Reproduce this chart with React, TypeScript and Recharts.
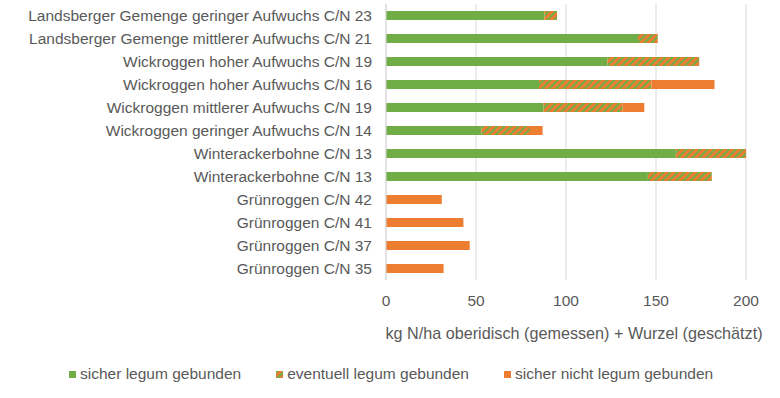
import { BarChart, Bar, XAxis, YAxis, CartesianGrid, Legend } from "recharts"

const categories = [
    "Landsberger Gemenge geringer Aufwuchs C/N 23",
    "Landsberger Gemenge mittlerer Aufwuchs C/N 21",
    "Wickroggen hoher Aufwuchs C/N 19",
    "Wickroggen hoher Aufwuchs C/N 16",
    "Wickroggen mittlerer Aufwuchs C/N 19",
    "Wickroggen geringer Aufwuchs C/N 14",
    "Winterackerbohne C/N 13",
    "Winterackerbohne C/N 13",
    "Grünroggen C/N 42",
    "Grünroggen C/N 41",
    "Grünroggen C/N 37",
    "Grünroggen C/N 35",
]
const sicherLegum = [88, 140, 123, 85, 87.5, 53, 161, 145.5, 0, 0, 0, 0]
const eventuellLegum = [7, 11, 51, 62.5, 44, 27, 39, 35.5, 0, 0, 0, 0]
const nichtLegum = [0, 0, 0, 35, 12, 7, 0, 0, 31, 43, 46.5, 32]
const xTicks = [0, 50, 100, 150, 200]
const seriesNames = ["sicher legum gebunden", "eventuell legum gebunden", "sicher nicht legum gebunden"]
const axisTitle = "kg N/ha oberidisch (gemessen) + Wurzel (geschätzt)"

const GREEN = "#70AD47"
const ORANGE = "#ED7D31"
const TEXT = "#595959"
const GRID = "#D9D9D9"
const FONT = '"Liberation Sans", Arial, sans-serif'
const FS = 15.5

const data = categories.map((name, i) => ({
    id: i,
    name,
    sicher: sicherLegum[i],
    eventuell: eventuellLegum[i],
    nicht: nichtLegum[i],
}))

// orange with thin green diagonal stripes, like the Excel pattern fill
function Hatch({ id }: { id: string }) {
    return (
        <pattern id={id} patternUnits="userSpaceOnUse" width={5} height={5} patternTransform="rotate(45)">
            <rect width={5} height={5} fill={ORANGE} />
            <rect width={2} height={5} fill={GREEN} />
        </pattern>
    )
}

function LegendBox() {
    const fills = [GREEN, "url(#hatchLegend)", ORANGE]
    return (
        <div style={{ height: 36, display: "flex", alignItems: "center", paddingLeft: 69, fontFamily: FONT, fontSize: FS, color: TEXT }}>
            <svg width={0} height={0} style={{ position: "absolute" }}>
                <defs>
                    <Hatch id="hatchLegend" />
                </defs>
            </svg>
            {seriesNames.map((s, i) => (
                <div key={s} style={{ display: "flex", alignItems: "center", marginRight: 35 }}>
                    <svg width={7} height={7} style={{ marginRight: 4 }}>
                        <rect width={7} height={7} fill={fills[i]} />
                    </svg>
                    <span>{s}</span>
                </div>
            ))}
        </div>
    )
}

export default function App() {
    return (
        <div style={{ position: "absolute", left: 0, top: 0, fontFamily: FONT }}>
            <BarChart
                width={780}
                height={398}
                data={data}
                layout="vertical"
                margin={{ top: 4, right: 34, left: 0, bottom: 6 }}
                barSize={9}
            >
                <defs>
                    <Hatch id="hatchBar" />
                </defs>
                <CartesianGrid horizontal={false} stroke={GRID} />
                <XAxis
                    type="number"
                    domain={[0, 200]}
                    ticks={xTicks}
                    axisLine={false}
                    tickLine={false}
                    tickMargin={9}
                    height={76}
                    tick={{ fontSize: FS, fill: TEXT, fontFamily: FONT }}
                    label={{ value: axisTitle, position: "insideBottom", offset: 17, dx: 8, fontSize: 16.2, fill: TEXT, fontFamily: FONT }}
                />
                <YAxis
                    type="category"
                    dataKey="id"
                    width={386}
                    tickFormatter={(i) => categories[i]}
                    axisLine={{ stroke: GRID }}
                    tickLine={false}
                    tickMargin={8}
                    interval={0}
                    tick={{ fontSize: FS, fill: TEXT, fontFamily: FONT }}
                />
                <Legend verticalAlign="bottom" content={() => <LegendBox />} wrapperStyle={{ left: 0, width: 780 }} />
                <Bar dataKey="sicher" name={seriesNames[0]} stackId="a" fill={GREEN} isAnimationActive={false} />
                <Bar dataKey="eventuell" name={seriesNames[1]} stackId="a" fill="url(#hatchBar)" isAnimationActive={false} />
                <Bar dataKey="nicht" name={seriesNames[2]} stackId="a" fill={ORANGE} isAnimationActive={false} />
            </BarChart>
        </div>
    )
}
